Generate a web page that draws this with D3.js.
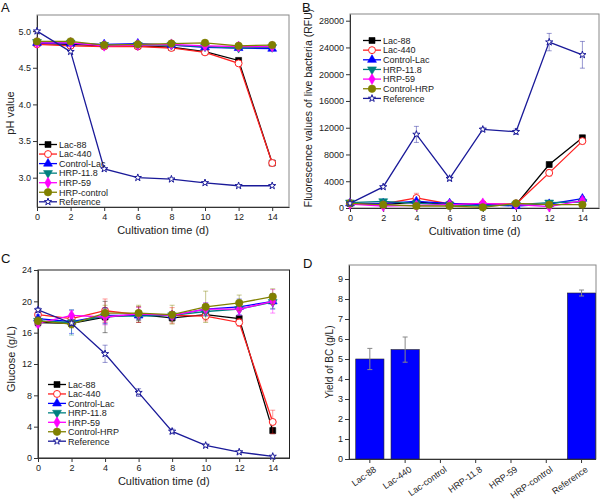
<!DOCTYPE html>
<html><head><meta charset="utf-8">
<script src="https://cdn.jsdelivr.net/npm/d3@7"></script>
<style>body{margin:0;background:#fff}svg{display:block}text{font-family:"Liberation Sans",Arial,sans-serif}</style>
</head><body><svg id="c" width="600" height="500"></svg>
<script>
const days = [0,2,4,6,8,10,12,14];
const xTicks = [0,2,4,6,8,10,12,14];

// Panel A: pH value
const phNames = ["Lac-88","Lac-440","Control-Lac","HRP-11.8","HRP-59","HRP-control","Reference"];
const phLac88 = [4.83,4.82,4.80,4.80,4.78,4.72,4.60,3.20];
const phLac440 = [4.82,4.80,4.79,4.79,4.77,4.71,4.56,3.20];
const phCtrlLac = [4.84,4.83,4.82,4.83,4.81,4.78,4.77,4.76];
const phHRP118 = [4.85,4.84,4.81,4.81,4.81,4.79,4.77,4.78];
const phHRP59 = [4.84,4.84,4.80,4.81,4.82,4.80,4.79,4.79];
const phCtrlHRP = [4.86,4.86,4.81,4.82,4.83,4.84,4.80,4.81];
const phRef = [5.00,4.72,3.12,3.00,2.98,2.93,2.89,2.89];
const phTicks = [3.0,3.5,4.0,4.5,5.0];

// Panel B: fluorescence (RFU)
const flNames = ["Lac-88","Lac-440","Control-Lac","HRP-11.8","HRP-59","Control-HRP","Reference"];
const flLac88 = [700,500,900,500,400,500,6500,10500];
const flLac440 = [700,600,1500,600,600,600,5250,10000];
const flCtrlLac = [700,700,1000,700,500,300,600,1400];
const flHRP118 = [800,1000,700,500,300,500,800,900];
const flHRP59 = [600,300,400,500,700,500,200,1100];
const flCtrlHRP = [700,500,300,300,100,700,500,500];
const flRef = [700,3150,11000,4400,11750,11400,24800,22900];
const flErrLac440 = [200,200,700,200,200,200,500,400];
const flErrRef = [200,200,1200,300,300,400,1300,2000];
const flErrOther = [150,150,200,150,150,150,200,300];
const flTicks = [0,4000,8000,12000,16000,20000,24000,28000];

// Panel C: glucose (g/L)
const glNames = ["Lac-88","Lac-440","Control-Lac","HRP-11.8","HRP-59","Control-HRP","Reference"];
const glLac88 = [17.3,17.2,18.0,18.3,17.9,18.3,17.8,3.5];
const glLac440 = [18.3,17.8,18.8,18.3,18.2,18.1,17.3,4.6];
const glCtrlLac = [17.8,17.4,18.2,18.2,18.2,19.0,19.3,20.0];
const glHRP118 = [17.5,17.3,18.1,18.1,18.2,18.7,19.0,19.9];
const glHRP59 = [17.2,18.2,18.0,18.4,18.2,19.0,19.0,20.0];
const glCtrlHRP = [17.5,17.1,18.5,18.5,18.3,19.3,19.8,20.6];
const glRef = [18.9,17.2,13.3,8.35,3.4,1.6,0.76,0.2];
const glErrLac88 = [0.5,0.5,2.0,1.0,0.5,0.5,0.3,0.4];
const glErrLac440 = [0.5,0.6,1.5,1.0,1.0,0.6,0.5,1.5];
const glErrCtrlLac = [0.5,1.5,1.0,0.5,0.5,0.8,1.0,1.0];
const glErrHRP118 = [0.5,1.6,1.0,0.5,0.5,0.6,0.8,0.8];
const glErrHRP59 = [0.5,0.6,1.0,0.8,0.5,0.8,0.8,1.5];
const glErrCtrlHRP = [0.5,0.5,1.0,1.0,1.2,2.0,1.0,1.0];
const glErrRef = [0.3,0.3,1.1,0.5,0.3,0.2,0.2,0.1];
const glTicks = [0,4,8,12,16,20,24];

// Panel D: BC yield
const bcCats = ["Lac-88","Lac-440","Lac-control","HRP-11.8","HRP-59","HRP-control","Reference"];
const bcVals = [5.0,5.47,0,0,0,0,8.3];
const bcErr = [0.53,0.63,0,0,0,0,0.15];
const bcTicks = [0,1,2,3,4,5,6,7,8,9];

const styles = [
  {color:"#000000", sym:d3.symbolSquare, fill:true, size:36},
  {color:"#ff2020", sym:d3.symbolCircle, fill:false, size:38},
  {color:"#0000ff", sym:d3.symbolTriangle, fill:true, size:34},
  {color:"#008080", sym:"down", fill:true, size:34},
  {color:"#ff00ff", sym:d3.symbolDiamond, fill:true, size:34},
  {color:"#808000", sym:d3.symbolCircle, fill:true, size:44},
  {color:"#1a1a99", sym:d3.symbolStar, fill:false, size:16}
];

const svg = d3.select("#c");

function symPath(st){
  if(st.sym==="down") return d3.symbol(d3.symbolTriangle, st.size)();
  return d3.symbol(st.sym, st.size)();
}
function drawMarker(g, x, y, st){
  g.append("path").attr("d", symPath(st))
    .attr("transform", `translate(${x},${y})` + (st.sym==="down"?" rotate(180)":""))
    .attr("fill", st.fill ? st.color : "#fff")
    .attr("stroke", st.color).attr("stroke-width", st.fill?0.6:1);
}

function linePanel(o){
  const g = svg.append("g");
  const x = d3.scaleLinear().domain([0,15]).range([o.l,o.r]);
  const y = d3.scaleLinear().domain(o.yd).range([o.b,o.t]);
  g.append("rect").attr("x",o.l).attr("y",o.t).attr("width",o.r-o.l).attr("height",o.b-o.t)
    .attr("fill","none").attr("stroke",o.frame).attr("stroke-width",1);
  const ax = g.append("g").attr("transform",`translate(0,${o.b})`)
    .call(d3.axisBottom(x).tickValues(xTicks).tickSize(4).tickPadding(3).tickSizeOuter(0));
  const ay = g.append("g").attr("transform",`translate(${o.l},0)`)
    .call(d3.axisLeft(y).tickValues(o.yt).tickFormat(o.fmt).tickSize(4).tickPadding(2).tickSizeOuter(0));
  [ax,ay].forEach(a=>{a.selectAll("text").attr("font-size",9).attr("fill","#222");
    a.selectAll("line,path").attr("stroke","#333");});
  o.series.forEach((s,i)=>{
    const st = styles[i];
    const sg = g.append("g");
    if(s.err){
      const eg = sg.append("g").attr("stroke",st.color).attr("stroke-opacity",0.45).attr("stroke-width",1);
      days.forEach((d,k)=>{
        const e=s.err[k]; if(!e) return;
        const cx=x(d), y1=y(s.v[k]-e), y2=y(s.v[k]+e);
        eg.append("line").attr("x1",cx).attr("x2",cx).attr("y1",y1).attr("y2",y2);
        eg.append("line").attr("x1",cx-2.5).attr("x2",cx+2.5).attr("y1",y1).attr("y2",y1);
        eg.append("line").attr("x1",cx-2.5).attr("x2",cx+2.5).attr("y1",y2).attr("y2",y2);
      });
    }
    sg.append("path").datum(s.v).attr("fill","none").attr("stroke",st.color).attr("stroke-width",1.3)
      .attr("d", d3.line().x((v,k)=>x(days[k])).y(v=>y(v)));
    s.v.forEach((v,k)=>drawMarker(sg, x(days[k]), y(v), st));
  });
  const lg = g.append("g");
  o.names.forEach((n,i)=>{
    const st=styles[i]; const yy=o.lgy+o.lgs*i;
    lg.append("line").attr("x1",o.lgx).attr("x2",o.lgx+18).attr("y1",yy).attr("y2",yy)
      .attr("stroke",st.color).attr("stroke-width",1.3);
    drawMarker(lg, o.lgx+9, yy, st);
    lg.append("text").attr("x",o.lgx+20).attr("y",yy+3.3).attr("font-size",9).attr("fill","#222").text(n);
  });
  g.append("text").attr("x",(o.l+o.r)/2).attr("y",o.b+27).attr("text-anchor","middle")
    .attr("font-size",11).attr("fill","#222").text("Cultivation time (d)");
  g.append("text").attr("transform",`translate(${o.ylx},${o.yly}) rotate(-90)`).attr("text-anchor","middle")
    .attr("font-size",o.ylfs||11).attr("fill","#222").text(o.ylab);
  g.append("text").attr("x",o.px).attr("y",o.py).attr("font-size",13).attr("fill","#111").text(o.letter);
}

linePanel({l:37,r:289,t:15,b:207,yd:[2.6,5.22],yt:phTicks,fmt:d3.format(".1f"),frame:"#888",
  series:[{v:phLac88},{v:phLac440},{v:phCtrlLac},{v:phHRP118},{v:phHRP59},{v:phCtrlHRP},{v:phRef}],
  names:phNames,lgx:39,lgy:144.5,lgs:9.55,ylab:"pH value",ylx:14,yly:113,letter:"A",px:1,py:12});

linePanel({l:350,r:599,t:14,b:208,yd:[0,29000],yt:flTicks,fmt:d3.format("d"),frame:"#888",
  series:[{v:flLac88,err:flErrOther},{v:flLac440,err:flErrLac440},{v:flCtrlLac,err:flErrOther},{v:flHRP118,err:flErrOther},
          {v:flHRP59,err:flErrOther},{v:flCtrlHRP,err:flErrOther},{v:flRef,err:flErrRef}],
  names:flNames,lgx:363,lgy:40.5,lgs:9.65,ylab:"Fluorescence values of live bacteria (RFU)",ylx:312,yly:108,ylfs:10.5,
  letter:"B",px:302,py:12});

linePanel({l:38,r:289.5,t:270,b:458,yd:[0,24],yt:glTicks,fmt:d3.format("d"),frame:"#222",
  series:[{v:glLac88,err:glErrLac88},{v:glLac440,err:glErrLac440},{v:glCtrlLac,err:glErrCtrlLac},{v:glHRP118,err:glErrHRP118},
          {v:glHRP59,err:glErrHRP59},{v:glCtrlHRP,err:glErrCtrlHRP},{v:glRef,err:glErrRef}],
  names:glNames,lgx:48,lgy:384.5,lgs:9.45,ylab:"Glucose (g/L)",ylx:15,yly:359,letter:"C",px:1,py:263});

// Panel D
(function(){
  const l=349,r=596,t=265,b=459;
  const g=svg.append("g");
  const x=d3.scaleBand().domain(bcCats).range([352.2,599.2]).paddingInner(0.2).paddingOuter(0.1);
  const y=d3.scaleLinear().domain([0,9.7]).range([b,t]);
  g.append("rect").attr("x",l).attr("y",t).attr("width",r-l).attr("height",b-t)
    .attr("fill","none").attr("stroke","#888").attr("stroke-width",1);
  g.selectAll("rect.bar").data(bcCats).enter().append("rect").attr("class","bar")
    .attr("x",d=>x(d)).attr("width",x.bandwidth())
    .attr("y",(d,i)=>y(bcVals[i])).attr("height",(d,i)=>b-y(bcVals[i]))
    .attr("fill","#0000ff").attr("stroke","#222").attr("stroke-width",0.6);
  bcCats.forEach((c,i)=>{
    if(!bcErr[i]) return;
    const cx=x(c)+x.bandwidth()/2, y1=y(bcVals[i]-bcErr[i]), y2=y(bcVals[i]+bcErr[i]);
    const eg=g.append("g").attr("stroke","#888").attr("stroke-width",1);
    eg.append("line").attr("x1",cx).attr("x2",cx).attr("y1",y1).attr("y2",y2);
    eg.append("line").attr("x1",cx-2.5).attr("x2",cx+2.5).attr("y1",y1).attr("y2",y1);
    eg.append("line").attr("x1",cx-2.5).attr("x2",cx+2.5).attr("y1",y2).attr("y2",y2);
  });
  const ax=g.append("g").attr("transform",`translate(0,${b})`)
    .call(d3.axisBottom(x).tickSize(4).tickSizeOuter(0));
  ax.select(".domain").attr("d",`M${l},0.5H${r}`);
  ax.selectAll("text").attr("font-size",9).attr("fill","#222").attr("text-anchor","end")
    .attr("transform","translate(3,6) rotate(-35)").attr("dy","0.35em").attr("y",4);
  const ay=g.append("g").attr("transform",`translate(${l},0)`)
    .call(d3.axisLeft(y).tickValues(bcTicks).tickSize(4).tickPadding(2).tickSizeOuter(0));
  ay.selectAll("text").attr("font-size",9).attr("fill","#222");
  [ax,ay].forEach(a=>a.selectAll("line,path").attr("stroke","#333"));
  g.append("text").attr("transform",`translate(333,362) rotate(-90)`).attr("text-anchor","middle")
    .attr("font-size",10).attr("fill","#222").text("Yield of BC (g/L)");
  g.append("text").attr("x",303).attr("y",268).attr("font-size",13).attr("fill","#111").text("D");
})();
</script></body></html>
